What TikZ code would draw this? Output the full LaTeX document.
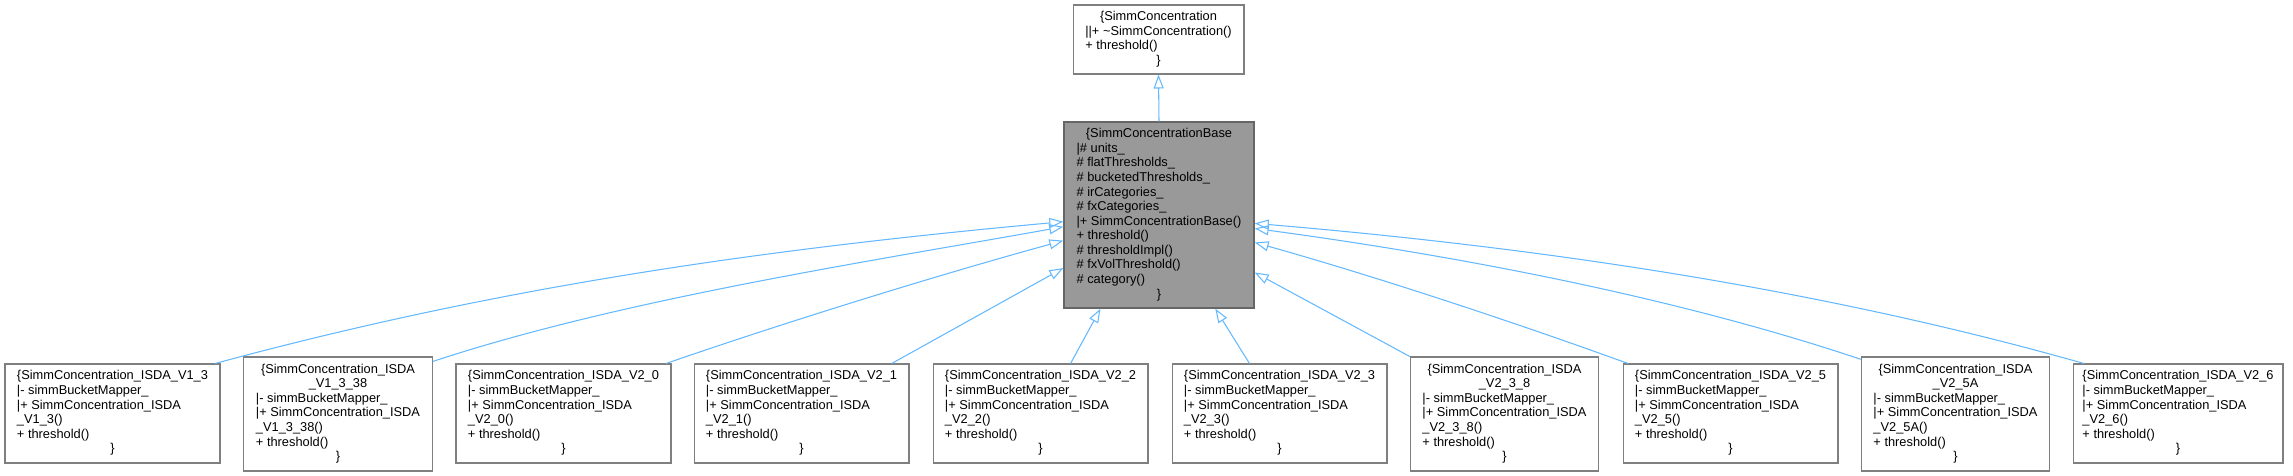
\documentclass[tikz,border=0pt]{standalone}
\usepackage{fontspec}
\setmainfont{Liberation Sans}
\usetikzlibrary{arrows.meta}
\definecolor{edgeblue}{HTML}{63B8FF}
\definecolor{boxborder}{HTML}{7F7F7F}
\definecolor{baseborder}{HTML}{666666}
\definecolor{basegray}{HTML}{999999}
\newcommand{\ctrline}[1]{\multicolumn{1}{@{}c@{}}{#1}}

\begin{document}
\begin{tikzpicture}[x=0.02cm, y=-0.02cm]
    \tikzset{
        classbox/.style={draw=boxborder, fill=white, line width=0.6pt, inner sep=0pt, font=\fontsize{7.3}{8.3}\selectfont},
        basebox/.style={classbox, draw=baseborder, fill=basegray, line width=0.8pt},
        inherit/.style={edgeblue, line width=0.6pt, -{Triangle[open, length=0.28cm, width=0.2cm]}}
    }
    \useasboundingbox (0,0) rectangle (2293,476);

    % Classe racine
    \node[classbox, minimum width=3.42cm, minimum height=1.38cm] (conc) at (1158.5,39.5) {\begin{tabular}{@{}l@{}}
        \ctrline{\{SimmConcentration}\\
        ||+ \textasciitilde SimmConcentration()\\
        + threshold()\\
        \ctrline{\}}
    \end{tabular}};

    % Classe de base
    \node[basebox, minimum width=3.8cm, minimum height=3.72cm] (base) at (1159,215) {\begin{tabular}{@{}l@{}}
        \ctrline{\{SimmConcentrationBase}\\
        |\# units\_\\
        \# flatThresholds\_\\
        \# bucketedThresholds\_\\
        \# irCategories\_\\
        \# fxCategories\_\\
        |+ SimmConcentrationBase()\\
        + threshold()\\
        \# thresholdImpl()\\
        \# fxVolThreshold()\\
        \# category()\\
        \ctrline{\}}
    \end{tabular}};

    % Classes derivees (titre sur une ligne)
    \foreach \n/\x/\w/\v in {c1/112.5/4.3/V1\_3, c3/563.5/4.3/V2\_0, c4/801.5/4.3/V2\_1,
        c5/1040.5/4.3/V2\_2, c6/1279.5/4.3/V2\_3, c8/1730.5/4.3/V2\_5, c10/2178/4.2/V2\_6} {
        \node[classbox, minimum width=\w cm, minimum height=1.98cm] (\n) at (\x,413.5) {\begin{tabular}{@{}l@{}}
            \ctrline{\{SimmConcentration\_ISDA\_\v}\\
            |- simmBucketMapper\_\\
            |+ SimmConcentration\_ISDA\\
            \_\v()\\
            + threshold()\\
            \ctrline{\}}
        \end{tabular}};
    }

    % Classes derivees (titre sur deux lignes)
    \foreach \n/\x/\v in {c2/338/V1\_3\_38, c7/1504.5/V2\_3\_8, c9/1955.5/V2\_5A} {
        \node[classbox, minimum width=3.77cm, minimum height=2.28cm] (\n) at (\x,414) {\begin{tabular}{@{}l@{}}
            \ctrline{\{SimmConcentration\_ISDA}\\
            \ctrline{\_\v}\\
            |- simmBucketMapper\_\\
            |+ SimmConcentration\_ISDA\\
            \_\v()\\
            + threshold()\\
            \ctrline{\}}
        \end{tabular}};
    }

    % Heritage
    \draw[inherit] (base.north) -- (conc.south);
    \draw[inherit] (c1.26.7) .. controls (501,286) and (765,249) .. (base.184.8);
    \draw[inherit] (c2.29.4) .. controls (622,299) and (867,262) .. (base.187.2);
    \draw[inherit] (c3.26.4) .. controls (786,322) and (938,275) .. (base.195.3);
    \draw[inherit] (c4.29.2) -- (base.209.6);
    \draw[inherit] (c5.59.2) -- (base.238.5);
    \draw[inherit] (c6.121.6) -- (base.301.9);
    \draw[inherit] (c7.north west) -- (base.329.5);
    \draw[inherit] (c8.154.2) .. controls (1511,321) and (1374,276) .. (base.344.1);
    \draw[inherit] (c9.150.7) .. controls (1672,296) and (1452,255) .. (base.352.8);
    \draw[inherit] (c10.152.5) .. controls (1814,287) and (1533,247) .. (base.355.2);
\end{tikzpicture}
\end{document}
